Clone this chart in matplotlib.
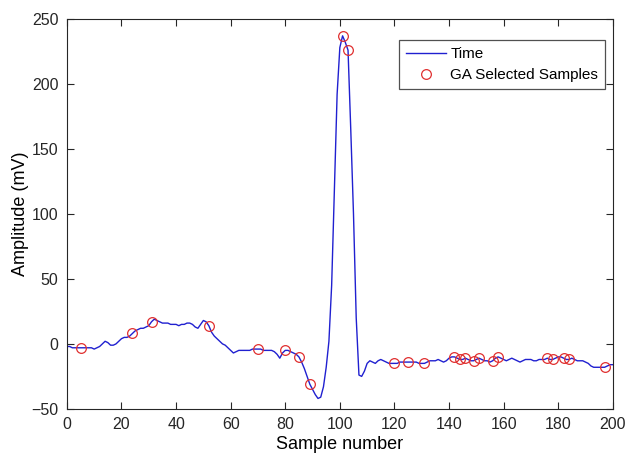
import matplotlib
matplotlib.use("Agg")
import matplotlib.pyplot as plt
import numpy as np

# signal, one value per sample 0..200
amplitude = [
    -2, -2, -3, -3, -3, -3, -3, -3, -3, -3,
    -4, -3, -2, 0, 2, 1, -1, -1, 0, 2,
    4, 5, 5, 6, 8, 10, 11, 12, 12, 13,
    14, 17, 19, 18, 17, 16, 16, 16, 15, 15,
    15, 14, 15, 15, 16, 16, 15, 13, 12, 15,
    18, 17, 14, 9, 6, 4, 2, 0, -1, -3,
    -5, -7, -6, -5, -5, -5, -5, -5, -4, -4,
    -4, -4, -5, -5, -5, -5, -6, -8, -11, -7,
    -5, -5, -6, -7, -8, -10, -14, -19, -25, -31,
    -35, -39, -42, -41, -33, -18, 2, 45, 118, 192,
    228, 237, 232, 226, 165, 100, 20, -24, -25, -21,
    -15, -13, -14, -15, -13, -12, -13, -14, -15, -15,
    -15, -15, -14, -14, -14, -14, -14, -14, -14, -15,
    -15, -15, -14, -13, -13, -13, -12, -13, -14, -13,
    -11, -10, -10, -11, -12, -12, -11, -12, -13, -13,
    -12, -11, -12, -13, -13, -14, -13, -11, -10, -11,
    -12, -13, -12, -11, -12, -13, -14, -13, -12, -12,
    -12, -13, -13, -12, -12, -12, -11, -12, -12, -11,
    -10, -10, -11, -12, -12, -11, -12, -13, -13, -13,
    -14, -15, -17, -18, -18, -18, -18, -18, -17, -16,
    -16,
]
samples = np.arange(len(amplitude))

# samples picked by the GA
selected = [5, 24, 31, 52, 70, 80, 85, 89, 101, 103, 120, 125, 131,
            142, 144, 146, 149, 151, 156, 158, 176, 178, 182, 184, 197]

xticks = [0, 20, 40, 60, 80, 100, 120, 140, 160, 180, 200]
yticks = [-50, 0, 50, 100, 150, 200, 250]

plt.rcParams["font.family"] = ["Liberation Sans", "DejaVu Sans"]

fig = plt.figure(figsize=(6.37, 4.62), dpi=100)
ax = fig.add_axes([0.105, 0.115, 0.857, 0.844])

amp = np.array(amplitude)
ax.plot(samples, amp, color="#2020d0", lw=1.0, label="Time")
ax.plot(selected, amp[selected], "o", mfc="none", mec="#e03030",
        ms=7, mew=0.9, label="GA Selected Samples")

ax.set_xlim(0, 200)
ax.set_ylim(-50, 250)
ax.set_xticks(xticks)
ax.set_yticks(yticks)
ax.tick_params(direction="in", length=5, width=0.8, colors="#262626",
               labelsize=11.5, top=True, right=True, pad=6)
for s in ax.spines.values():
    s.set_color("#262626")
    s.set_linewidth(0.8)

ax.set_xlabel("Sample number", fontsize=13, labelpad=3)
ax.set_ylabel("Amplitude (mV)", fontsize=13, labelpad=2)

leg = ax.legend(loc="upper right", bbox_to_anchor=(1.0, 0.965), fontsize=11,
                fancybox=False, edgecolor="#505050", framealpha=1,
                handlelength=2.6, borderpad=0.45, labelspacing=0.45,
                handletextpad=0.3)
leg.get_frame().set_linewidth(0.9)

fig.savefig("out.png", dpi=100)
